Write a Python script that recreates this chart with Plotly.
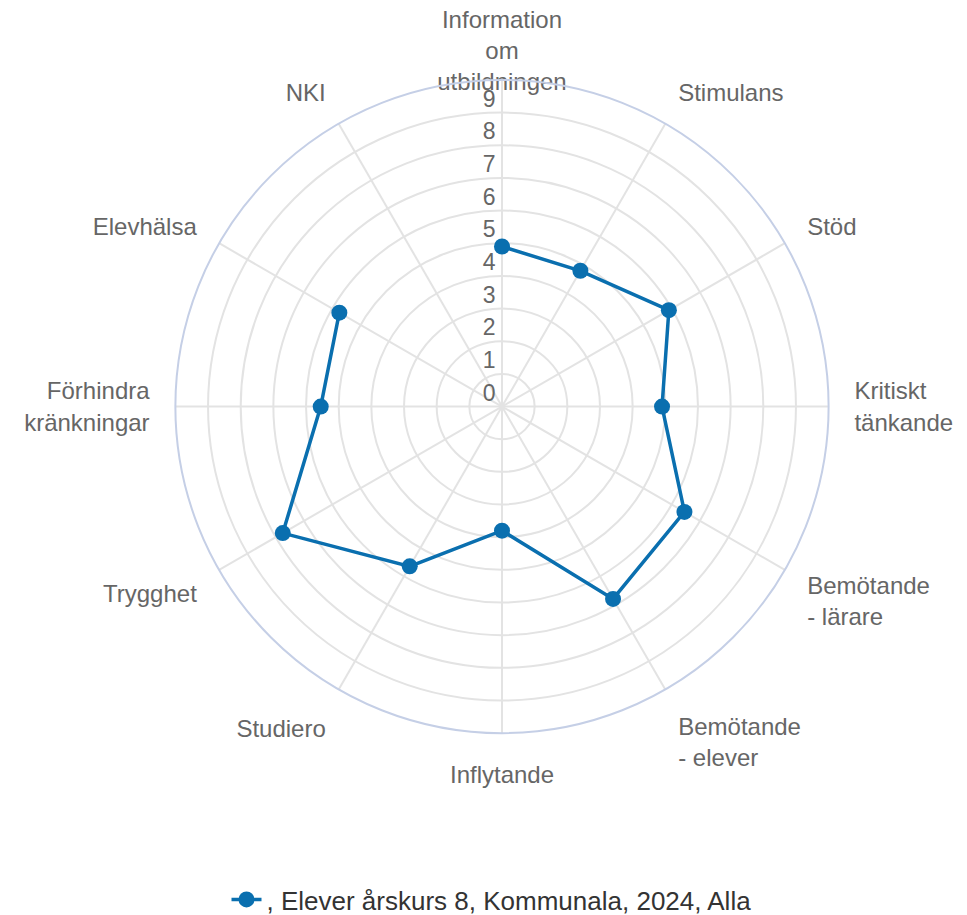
import plotly.graph_objects as go

categories = ["Information om utbildningen", "Stimulans", "Stöd", "Kritiskt tänkande",
              "Bemötande - lärare", "Bemötande - elever", "Inflytande", "Studiero",
              "Trygghet", "Förhindra kränkningar", "Elevhälsa", "NKI"]
category_labels = ["Information<br>om<br>utbildningen", "Stimulans", "Stöd", "Kritiskt<br>tänkande",
                   "Bemötande<br>- lärare", "Bemötande<br>- elever", "Inflytande", "Studiero",
                   "Trygghet", "Förhindra<br>kränkningar", "Elevhälsa", "NKI"]
values = [4.9, 4.8, 5.9, 4.9, 6.45, 6.8, 3.8, 5.65, 7.75, 5.55, 5.75, None]
series_name = ", Elever årskurs 8, Kommunala, 2024, Alla"
tick_values = [0, 1, 2, 3, 4, 5, 6, 7, 8, 9]

color = "#0a6faf"
font_family = "Liberation Sans, Arial, sans-serif"

fig = go.Figure()
fig.add_trace(go.Scatterpolar(
    r=values, theta=categories, mode="lines+markers", name=series_name,
    line=dict(color=color, width=3.5), marker=dict(color=color, size=16),
    connectgaps=False,
))
# radial tick labels placed via the polar scale
fig.add_trace(go.Scatterpolar(
    r=tick_values, theta=[categories[0]] * len(tick_values), mode="text",
    text=[str(v) + "\u00a0" for v in tick_values], textposition="top left",
    textfont=dict(size=23, color="#666666", family=font_family),
    showlegend=False, hoverinfo="skip",
))
# top category label (overlaps the rim as in the reference)
fig.add_trace(go.Scatterpolar(
    r=[9.5], theta=[categories[0]], mode="text", text=[category_labels[0]],
    textposition="top center", cliponaxis=False,
    textfont=dict(size=24, color="#666666", family=font_family),
    showlegend=False, hoverinfo="skip",
))

fig.update_layout(
    width=967, height=915,
    margin=dict(l=0, r=0, t=0, b=0),
    paper_bgcolor="white",
    font=dict(family=font_family, size=24, color="#666666"),
    polar=dict(
        domain=dict(x=[0.1727, 0.849], y=[0.2066, 0.9213]),
        bgcolor="white",
        radialaxis=dict(range=[0, 10], tickvals=list(range(0, 11)), showticklabels=False,
                        gridcolor="#e3e3e3", gridwidth=2, showline=False, ticks=""),
        angularaxis=dict(direction="clockwise", rotation=90, gridcolor="#e3e3e3", gridwidth=2,
                         linecolor="#c5cfe6", linewidth=2,
                         ticks="outside", ticklen=20, tickcolor="rgba(0,0,0,0)",
                         tickvals=categories, ticktext=[""] + category_labels[1:],
                         tickfont=dict(size=24, color="#666666")),
    ),
    legend=dict(orientation="h", x=0.5, xanchor="center", y=0.025, yanchor="middle",
                font=dict(size=26, color="#333333")),
)

fig.write_html("out.html")
